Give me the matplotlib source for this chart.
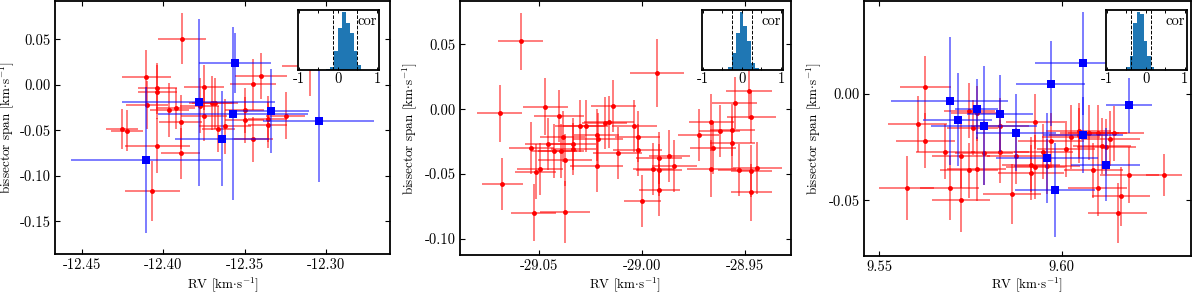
import matplotlib
matplotlib.use("Agg")
import matplotlib.pyplot as plt
from matplotlib.ticker import FormatStrFormatter, FixedLocator
import numpy as np

plt.rcParams['font.family'] = ['cmr10', 'DejaVu Serif']
plt.rcParams['mathtext.fontset'] = 'cm'
plt.rcParams['axes.unicode_minus'] = False
plt.rcParams['axes.formatter.use_mathtext'] = True
plt.rcParams['font.size'] = 10.5

# ---- panel 1 ----
p1_red_x = [-12.3886, -12.4106, -12.4037, -12.4037, -12.4102, -12.3963, -12.3924, -12.3894,
            -12.4255, -12.4224, -12.4037, -12.3894, -12.4067, -12.3751, -12.3776, -12.3751,
            -12.3704, -12.3684, -12.3663, -12.3620, -12.3449, -12.3402, -12.3500, -12.3500,
            -12.3449, -12.3361, -12.3361, -12.3249, -12.3100]
p1_red_y = [0.0505, 0.0084, -0.0037, -0.0081, -0.0223, -0.0275, -0.0260, -0.0410,
            -0.0487, -0.0502, -0.0670, -0.0750, -0.1170, -0.0029, -0.0230, -0.0340,
            -0.0200, -0.0200, -0.0487, -0.0458, 0.0007, 0.0099, -0.0280, -0.0385,
            -0.0600, -0.0374, -0.0440, -0.0340, 0.0205]
p1_red_xerr = [0.015, 0.015, 0.012, 0.012, 0.013, 0.012, 0.012, 0.013,
               0.010, 0.010, 0.020, 0.012, 0.017, 0.012, 0.012, 0.014,
               0.014, 0.014, 0.010, 0.016, 0.014, 0.016, 0.012, 0.012,
               0.012, 0.012, 0.012, 0.012, 0.017]
p1_red_yerr = [0.028, 0.030, 0.028, 0.030, 0.026, 0.030, 0.022, 0.030,
               0.022, 0.022, 0.030, 0.028, 0.033, 0.025, 0.030, 0.028,
               0.030, 0.028, 0.025, 0.030, 0.028, 0.025, 0.025, 0.025,
               0.025, 0.025, 0.025, 0.026, 0.033]
p1_blue_x = [-12.3561, -12.3784, -12.3573, -12.3339, -12.3047, -12.3641, -12.4106]
p1_blue_y = [0.0245, -0.0194, -0.0319, -0.0286, -0.0403, -0.0590, -0.0824]
p1_blue_xerr = [0.022, 0.047, 0.046, 0.023, 0.034, 0.029, 0.046]
p1_blue_yerr = [0.033, 0.092, 0.095, 0.046, 0.067, 0.052, 0.080]

# ---- panel 2 ----
p2_red_x = [-29.0591, -29.0693, -29.0681, -29.0539, -29.0519, -29.0498, -29.0529, -29.0471,
            -29.0458, -29.0406, -29.0396, -29.0429, -29.0387, -29.0377, -29.0377, -29.0335,
            -29.0335, -29.0304, -29.0275, -29.0223, -29.0215, -29.0223, -29.0183, -29.0163,
            -29.0141, -29.0121, -29.0040, -29.0023, -29.0023, -29.0000, -28.9930, -28.9948,
            -28.9919, -28.9919, -28.9919, -28.9869, -28.9846, -28.9727, -28.9665, -28.9657,
            -28.9665, -28.9625, -28.9563, -28.9563, -28.9552, -28.9532, -28.9482, -28.9471,
            -28.9471, -28.9471, -28.9442]
p2_red_y = [0.0522, -0.0031, -0.0578, -0.0297, -0.0481, -0.0458, -0.0798, 0.0020,
            -0.0271, -0.0049, -0.0322, -0.0322, -0.0210, -0.0389, -0.0790, -0.0271,
            -0.0307, -0.0130, -0.0130, -0.0200, -0.0230, -0.0440, -0.0107, -0.0097,
            0.0028, -0.0338, -0.0130, -0.0210, -0.0312, -0.0708, 0.0281, -0.0458,
            -0.0379, -0.0471, -0.0619, -0.0361, -0.0440, -0.0200, -0.0100, -0.0299,
            -0.0458, -0.0169, -0.0159, -0.0261, 0.0046, -0.0471, 0.0143, -0.0061,
            -0.0478, -0.0639, -0.0453]
p2_red_xerr = [0.011, 0.011, 0.010, 0.011, 0.010, 0.011, 0.011, 0.011,
               0.011, 0.012, 0.011, 0.011, 0.011, 0.013, 0.012, 0.011,
               0.011, 0.012, 0.011, 0.011, 0.012, 0.013, 0.011, 0.012,
               0.011, 0.012, 0.011, 0.011, 0.012, 0.009, 0.013, 0.010,
               0.011, 0.011, 0.010, 0.010, 0.011, 0.010, 0.011, 0.011,
               0.012, 0.010, 0.011, 0.011, 0.011, 0.010, 0.011, 0.012,
               0.010, 0.010, 0.012]
p2_red_yerr = [0.022, 0.022, 0.020, 0.020, 0.021, 0.020, 0.022, 0.022,
               0.020, 0.020, 0.021, 0.021, 0.020, 0.020, 0.024, 0.020,
               0.020, 0.020, 0.020, 0.020, 0.020, 0.020, 0.020, 0.020,
               0.020, 0.020, 0.020, 0.020, 0.020, 0.020, 0.026, 0.020,
               0.020, 0.020, 0.020, 0.020, 0.020, 0.020, 0.022, 0.020,
               0.022, 0.020, 0.020, 0.020, 0.020, 0.020, 0.022, 0.020,
               0.020, 0.022, 0.020]

# ---- panel 3 ----
p3_red_x = [9.5627, 9.5606, 9.5627, 9.5576, 9.5682, 9.5693, 9.5725, 9.5725, 9.5747, 9.5747,
            9.5757, 9.5767, 9.5767, 9.5788, 9.5831, 9.5831, 9.5864, 9.5875, 9.5916, 9.5916,
            9.5928, 9.5928, 9.5950, 9.5959, 9.5970, 9.6012, 9.6025, 9.6046, 9.6046, 9.6076,
            9.6087, 9.6098, 9.6098, 9.6110, 9.6122, 9.6133, 9.6144, 9.6153, 9.6162, 9.6185,
            9.6280]
p3_red_y = [0.0031, -0.0141, -0.0219, -0.0441, -0.0270, -0.0441, -0.0291, -0.0500, -0.0078, -0.0359,
            -0.0158, -0.0091, -0.0352, -0.0278, -0.0150, -0.0270, -0.0469, -0.0291, -0.0331, -0.0370,
            -0.0130, -0.0341, -0.0270, -0.0339, -0.0219, -0.0258, -0.0200, -0.0172, -0.0194, -0.0181,
            -0.0359, -0.0181, -0.0441, -0.0244, -0.0247, -0.0209, -0.0184, -0.0559, -0.0481, -0.0380,
            -0.0380]
p3_red_xerr = [0.007, 0.008, 0.008, 0.0075, 0.008, 0.008, 0.008, 0.008, 0.007, 0.008,
               0.007, 0.007, 0.008, 0.008, 0.008, 0.008, 0.008, 0.008, 0.008, 0.009,
               0.008, 0.008, 0.008, 0.009, 0.009, 0.008, 0.008, 0.009, 0.008, 0.008,
               0.008, 0.008, 0.008, 0.008, 0.008, 0.008, 0.008, 0.008, 0.008, 0.008,
               0.005]
p3_red_yerr = [0.015, 0.013, 0.013, 0.015, 0.013, 0.015, 0.015, 0.015, 0.013, 0.013,
               0.013, 0.013, 0.015, 0.015, 0.013, 0.015, 0.014, 0.013, 0.013, 0.013,
               0.013, 0.015, 0.013, 0.013, 0.013, 0.013, 0.015, 0.013, 0.013, 0.013,
               0.013, 0.013, 0.013, 0.013, 0.013, 0.013, 0.013, 0.014, 0.014, 0.013,
               0.010]
p3_blue_x = [9.5693, 9.5715, 9.5767, 9.5788, 9.5831, 9.5875, 9.5959, 9.5970, 9.5981, 9.6058,
             9.6058, 9.6120, 9.6185]
p3_blue_y = [-0.0031, -0.0120, -0.0070, -0.0148, -0.0092, -0.0181, -0.0300, 0.0048, -0.0450, 0.0144,
             -0.0192, -0.0331, -0.0053]
p3_blue_xerr = [0.016, 0.0095, 0.006, 0.0145, 0.009, 0.011, 0.014, 0.0095, 0.011, 0.013,
                0.011, 0.0095, 0.0063]
p3_blue_yerr = [0.030, 0.022, 0.014, 0.028, 0.018, 0.018, 0.021, 0.020, 0.022, 0.024,
                0.018, 0.017, 0.013]

# ---- correlation histograms (insets) ----
h1_left, h1_width = -0.30, 0.10
h1_counts = [3, 7, 57, 125, 173, 140, 110, 57, 13]
h1_lines = [-0.12, 0.50]
h2_left, h2_width = -0.36, 0.10
h2_counts = [7, 50, 110, 173, 130, 85, 20, 5]
h2_lines = [-0.26, 0.25]
h3_left, h3_width = -0.50, 0.09
h3_counts = [7, 40, 140, 173, 167, 85, 40, 7]
h3_lines = [-0.37, 0.13]

W, H = 1200, 292
fig = plt.figure(figsize=(W / 100, H / 100), dpi=100)


def px_axes(l, r, t, b):
    return fig.add_axes([l / W, (H - b) / H, (r - l) / W, (b - t) / H])


def style(ax):
    ax.tick_params(direction='in', top=True, right=True, length=3.5, width=0.8, pad=3)
    for s in ax.spines.values():
        s.set_linewidth(1.3)


def draw_err(ax, x, y, xe, ye, color, marker, ms):
    ax.errorbar(x, y, xerr=xe, yerr=ye, fmt='none', ecolor=color, alpha=0.6, elinewidth=1.2, capsize=0)
    ax.plot(x, y, ls='none', marker=marker, color=color, ms=ms, mew=0)


def inset(l, r, left, width, counts, lines):
    ia = px_axes(l, r, 9.7, 69.7)
    edges = left + width * np.arange(len(counts))
    ia.bar(edges, counts, width=width, align='edge', color='#1f77b4', lw=0)
    for v in lines:
        ia.axvline(v, color='k', ls='--', lw=0.7)
    ia.set_xlim(-1.03, 1.06)
    ia.set_ylim(0, 180)
    ia.set_yticks([])
    ia.xaxis.set_major_locator(FixedLocator([-1, -0.5, 0, 0.5, 1]))
    ia.set_xticklabels(['-1', '', '0', '', '1'])
    ia.tick_params(direction='in', top=True, length=2.5, width=0.7, pad=2)
    for s in ia.spines.values():
        s.set_linewidth(1.3)
    ia.text(0.97, 0.93, 'cor', transform=ia.transAxes, ha='right', va='top')


xlab = r'RV [km$\cdot$s$^{-1}$]'
ylab = r'bissector span [km$\cdot$s$^{-1}$]'

ax1 = px_axes(55, 390, 1, 254)
draw_err(ax1, p1_red_x, p1_red_y, p1_red_xerr, p1_red_yerr, '#ff0000', 'o', 3.5)
draw_err(ax1, p1_blue_x, p1_blue_y, p1_blue_xerr, p1_blue_yerr, '#0000ff', 's', 5.5)
ax1.set_xlim(-12.4665, -12.261)
ax1.set_ylim(-0.186, 0.0922)
ax1.set_xticks([-12.45, -12.40, -12.35, -12.30])
ax1.set_yticks([-0.15, -0.10, -0.05, 0.00, 0.05])

ax2 = px_axes(460, 790.7, 1, 255)
draw_err(ax2, p2_red_x, p2_red_y, p2_red_xerr, p2_red_yerr, '#ff0000', 'o', 3.5)
ax2.set_xlim(-29.0886, -28.928)
ax2.set_ylim(-0.1123, 0.0834)
ax2.set_xticks([-29.05, -29.00, -28.95])
ax2.set_yticks([-0.10, -0.05, 0.00, 0.05])

ax3 = px_axes(864, 1190.7, 1, 256)
draw_err(ax3, p3_red_x, p3_red_y, p3_red_xerr, p3_red_yerr, '#ff0000', 'o', 3.5)
draw_err(ax3, p3_blue_x, p3_blue_y, p3_blue_xerr, p3_blue_yerr, '#0000ff', 's', 5.5)
ax3.set_xlim(9.5459, 9.6353)
ax3.set_ylim(-0.0761, 0.04375)
ax3.set_xticks([9.55, 9.60])
ax3.set_yticks([-0.05, 0.00])

ylab_x = [-0.115, -0.125, -0.125]
xlab_y = [-0.085, -0.079, -0.074]
for ax, yx, xy in zip((ax1, ax2, ax3), ylab_x, xlab_y):
    style(ax)
    ax.xaxis.set_major_formatter(FormatStrFormatter('%.2f'))
    ax.yaxis.set_major_formatter(FormatStrFormatter('%.2f'))
    ax.set_xlabel(xlab, fontsize=9.5)
    ax.set_ylabel(ylab, fontsize=9.5)
    ax.xaxis.set_label_coords(0.5, xy)
    ax.yaxis.set_label_coords(yx, 0.5)

inset(297.7, 379.3, h1_left, h1_width, h1_counts, h1_lines)
inset(701.7, 783.3, h2_left, h2_width, h2_counts, h2_lines)
inset(1105.7, 1187.0, h3_left, h3_width, h3_counts, h3_lines)

fig.savefig('out.png', dpi=100)
